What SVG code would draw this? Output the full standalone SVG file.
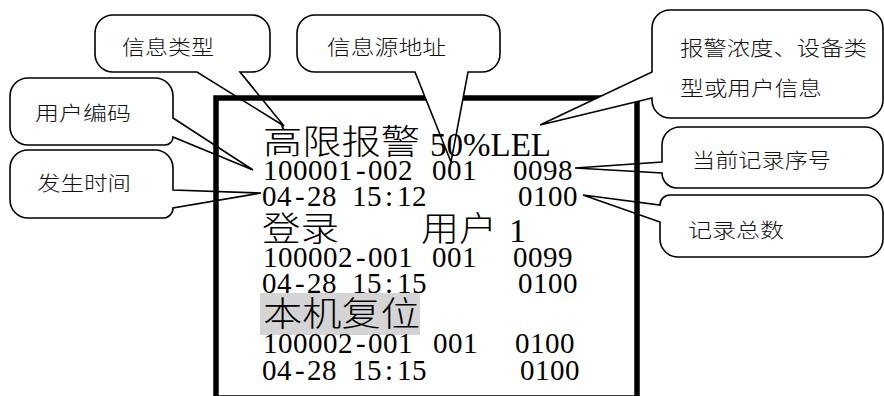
<svg xmlns="http://www.w3.org/2000/svg" width="884" height="396" viewBox="0 0 884 396">
  <style>
    .co { fill: #fff; stroke: #000; stroke-width: 1.6; stroke-linejoin: miter; }
    .lb { font-family: "Noto Sans CJK SC", "Noto Sans", sans-serif; font-size: 20px; font-weight: 300; fill: #111; }
    .big { font-family: "Liberation Serif", "Noto Sans CJK SC", serif; font-size: 34px; font-weight: 300; fill: #000; }
    .sm { font-family: "Liberation Serif", "Noto Sans CJK SC", serif; font-size: 29px; fill: #000; }
    .frame { fill: none; stroke: #000; stroke-width: 5.5; }
  </style>
  <rect x="0" y="0" width="884" height="396" fill="#fff"/>

  <!-- callouts below the screen frame -->
  <g id="callout-info-type">
    <path class="co" d="M 113,15 H 252 A 18 18 0 0 1 270,33 V 54 A 18 18 0 0 1 252,72 H 240 L 284,126 L 197,72 H 113 A 18 18 0 0 1 95,54 V 33 A 18 18 0 0 1 113,15 Z"/>
    <text class="lb" x="122" y="55" textLength="92" lengthAdjust="spacingAndGlyphs">信息类型</text>
  </g>
  <g id="callout-record-no">
    <path class="co" d="M 680,127 H 865 A 18 18 0 0 1 883,145 V 170 A 18 18 0 0 1 865,188 H 677 A 15 15 0 0 1 662,173 L 575,168 L 662,162 V 145 A 18 18 0 0 1 680,127 Z"/>
    <text class="lb" x="692" y="168" textLength="139" lengthAdjust="spacingAndGlyphs">当前记录序号</text>
  </g>
  <g id="callout-record-total">
    <path class="co" d="M 670,195 H 865 A 18 18 0 0 1 883,213 V 239 A 18 18 0 0 1 865,257 H 678 A 18 18 0 0 1 660,239 V 222 L 583,195 L 660,205 A 10 10 0 0 1 670,195 Z"/>
    <text class="lb" x="688" y="238" textLength="96" lengthAdjust="spacingAndGlyphs">记录总数</text>
  </g>
  <g id="callout-user-code">
    <path class="co" d="M 28,78 H 155 A 18 18 0 0 1 173,96 V 118 L 253,170 L 173,137 A 8 8 0 0 1 165,145 H 28 A 18 18 0 0 1 10,127 V 96 A 18 18 0 0 1 28,78 Z"/>
    <text class="lb" x="35" y="121" textLength="96" lengthAdjust="spacingAndGlyphs">用户编码</text>
  </g>
  <g id="callout-time">
    <path class="co" d="M 28,150 H 155 A 18 18 0 0 1 173,168 V 190 L 261,193 L 173,208 A 10 10 0 0 1 163,218 H 28 A 18 18 0 0 1 10,200 V 168 A 18 18 0 0 1 28,150 Z"/>
    <text class="lb" x="37" y="191" textLength="94" lengthAdjust="spacingAndGlyphs">发生时间</text>
  </g>

  <!-- screen frame -->
  <g id="screen">
    <rect class="frame" x="216" y="98" width="421" height="300"/>
  </g>

  <!-- callouts above the screen frame -->
  <g id="callout-source-addr">
    <path class="co" d="M 315,15 H 482 A 18 18 0 0 1 500,33 V 54 A 18 18 0 0 1 482,72 H 468 L 451,162 L 415,72 H 315 A 18 18 0 0 1 297,54 V 33 A 18 18 0 0 1 315,15 Z"/>
    <text class="lb" x="327" y="55" textLength="119" lengthAdjust="spacingAndGlyphs">信息源地址</text>
  </g>
  <g id="callout-alarm-info">
    <path class="co" d="M 670,10 H 865 A 18 18 0 0 1 883,28 V 100 A 18 18 0 0 1 865,118 H 670 A 18 18 0 0 1 652,100 V 98 L 540,125 L 652,72 V 28 A 18 18 0 0 1 670,10 Z"/>
    <text class="lb" x="680" y="56" textLength="187" lengthAdjust="spacingAndGlyphs">报警浓度、设备类</text>
    <text class="lb" x="680" y="96" textLength="142" lengthAdjust="spacingAndGlyphs">型或用户信息</text>
  </g>

  <!-- screen contents -->
  <g id="screen-text">
    <text class="big" x="263" y="153.5" textLength="157" lengthAdjust="spacingAndGlyphs">高限报警</text>
    <text class="big" x="430" y="156" font-size="38" textLength="121" lengthAdjust="spacingAndGlyphs">50%LEL</text>
    <text class="sm" y="180"><tspan x="263 278 293 308 323 338 356 368 383 398">100001-002</tspan><tspan x="432 447 462">001</tspan><tspan x="513 528 543 558">0098</tspan></text>
    <text class="sm" y="206"><tspan x="262 277 295 307 322">04-28</tspan><tspan x="352 367 385 397 412">15:12</tspan><tspan x="518 533 548 563">0100</tspan></text>

    <text class="big" x="262" y="240.5" textLength="77" lengthAdjust="spacingAndGlyphs">登录</text>
    <text class="big" x="421" y="240.5" textLength="76" lengthAdjust="spacingAndGlyphs">用户</text>
    <text class="big" x="509" y="242" font-size="38">1</text>
    <text class="sm" y="267"><tspan x="263 278 293 308 323 338 356 368 383 398">100002-001</tspan><tspan x="432 447 462">001</tspan><tspan x="513 528 543 558">0099</tspan></text>
    <text class="sm" y="293"><tspan x="262 277 295 307 322">04-28</tspan><tspan x="352 367 385 397 412">15:15</tspan><tspan x="518 533 548 563">0100</tspan></text>

    <rect x="260" y="293" width="160" height="42" fill="#d4d4d4"/>
    <text class="big" x="263" y="325.5" textLength="157" lengthAdjust="spacingAndGlyphs">本机复位</text>
    <text class="sm" y="353"><tspan x="263 278 293 308 323 338 356 368 383 398">100002-001</tspan><tspan x="433 448 463">001</tspan><tspan x="515 530 545 560">0100</tspan></text>
    <text class="sm" y="380"><tspan x="262 277 295 307 322">04-28</tspan><tspan x="352 367 385 397 412">15:15</tspan><tspan x="520 535 550 565">0100</tspan></text>
  </g>
</svg>
